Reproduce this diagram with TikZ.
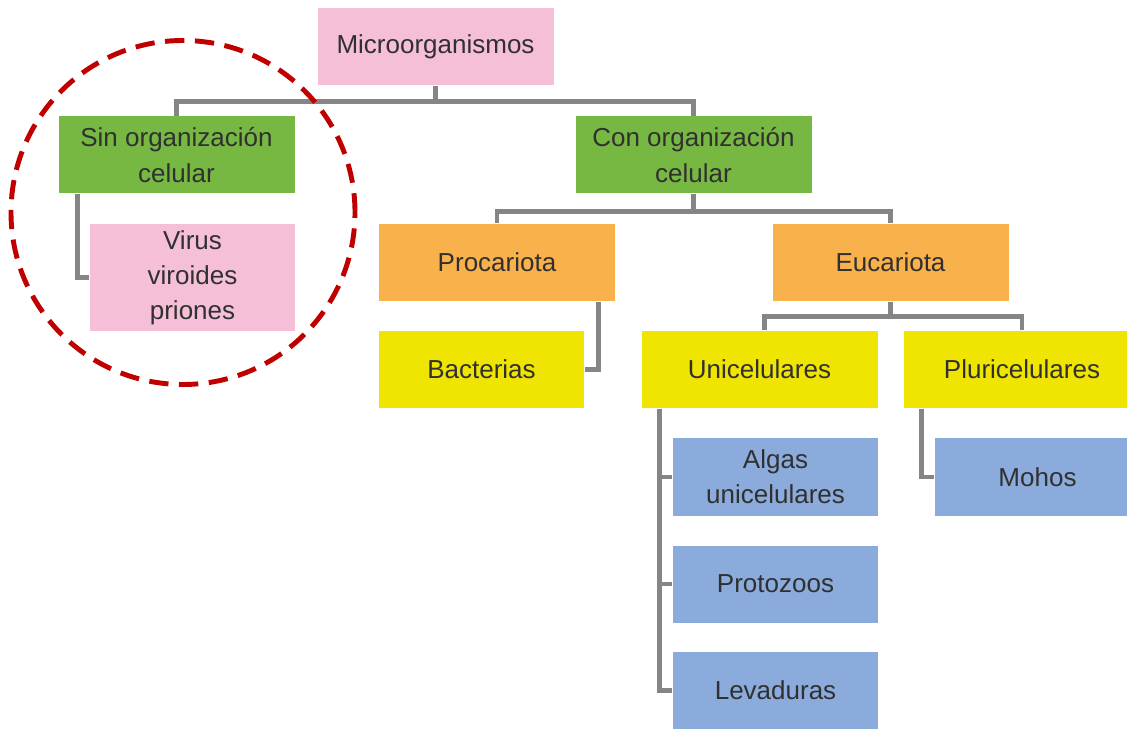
\documentclass[tikz,border=0pt]{standalone}
\usepackage{fontspec}
\setmainfont{Liberation Sans}
\usepackage{xcolor}
\usepackage{tikz}
\usetikzlibrary{calc}

\definecolor{pinkbox}{HTML}{F6BFD8}
\definecolor{greenbox}{HTML}{77B843}
\definecolor{orangebox}{HTML}{F9B24B}
\definecolor{yellowbox}{HTML}{F0E500}
\definecolor{bluebox}{HTML}{8AABDB}
\definecolor{linkgray}{HTML}{858585}
\definecolor{ringred}{HTML}{C00000}
\definecolor{labeltext}{HTML}{303030}

\begin{document}
\begin{tikzpicture}[
  box/.style={inner sep=0pt, align=center, text=labeltext,
    font=\fontsize{7.4}{10}\selectfont},
  wide/.style={box, minimum width=2.36cm, minimum height=0.77cm},
  narrow/.style={box, minimum width=2.05cm, minimum height=0.77cm},
  link/.style={linkgray, line width=1.4pt}
]
\clip (0,0) rectangle (11.27,-7.28);
\node[wide, fill=pinkbox] (micro) at (4.355,-0.465) {Microorganismos};
\node[wide, fill=greenbox] (sin) at (1.765,-1.55) {Sin organización\\celular};
\node[narrow, fill=pinkbox, minimum height=1.07cm] (virus) at (1.925,-2.775) {Virus\\viroides\\priones};
\node[wide, fill=greenbox] (con) at (6.935,-1.55) {Con organización\\celular};
\node[wide, fill=orangebox] (proc) at (4.97,-2.625) {Procariota};
\node[wide, fill=orangebox] (euc) at (8.905,-2.625) {Eucariota};
\node[narrow, fill=yellowbox] (bact) at (4.815,-3.695) {Bacterias};
\node[wide, fill=yellowbox] (uni) at (7.595,-3.695) {Unicelulares};
\node[wide, fill=yellowbox] (pluri) at (10.22,-3.695) {Pluricelulares};
\node[narrow, fill=bluebox, minimum height=0.78cm] (algas) at (7.755,-4.77) {Algas\\unicelulares};
\node[narrow, fill=bluebox, minimum height=0.78cm] (mohos) at (10.375,-4.77) {Mohos};
\node[narrow, fill=bluebox] (proto) at (7.755,-5.84) {Protozoos};
\node[narrow, fill=bluebox] (leva) at (7.755,-6.905) {Levaduras};

\coordinate (j1) at ($(micro.south)+(0,-0.16)$);
\coordinate (j2) at ($(con.south)+(0,-0.17)$);
\coordinate (j3) at ($(euc.south)+(0,-0.15)$);
\draw[link] (micro.south) -- (j1) -| (sin.north);
\draw[link] (j1) -| (con.north);
\draw[link] (con.south) -- (j2) -| (proc.north);
\draw[link] (j2) -| (euc.north);
\draw[link] (euc.south) -- (j3) -| ([xshift=0.05cm]uni.north);
\draw[link] (j3) -| (pluri.north);
\draw[link] ([xshift=0.2cm]sin.south west) |- (virus.west);
\draw[link] ([xshift=-0.17cm]proc.south east) |- (bact.east);
\draw[link] ([xshift=0.19cm]uni.south west) |- (leva.west);
\draw[link] ([xshift=0.19cm]uni.south west) |- (algas.west);
\draw[link] ([xshift=0.19cm]uni.south west) |- (proto.west);
\draw[link] ([xshift=0.18cm]pluri.south west) |- (mohos.west);

\draw[ringred, line width=1.4pt, dash pattern=on 5.5pt off 3pt] (1.83,-2.125) circle (1.72);
\end{tikzpicture}
\end{document}
